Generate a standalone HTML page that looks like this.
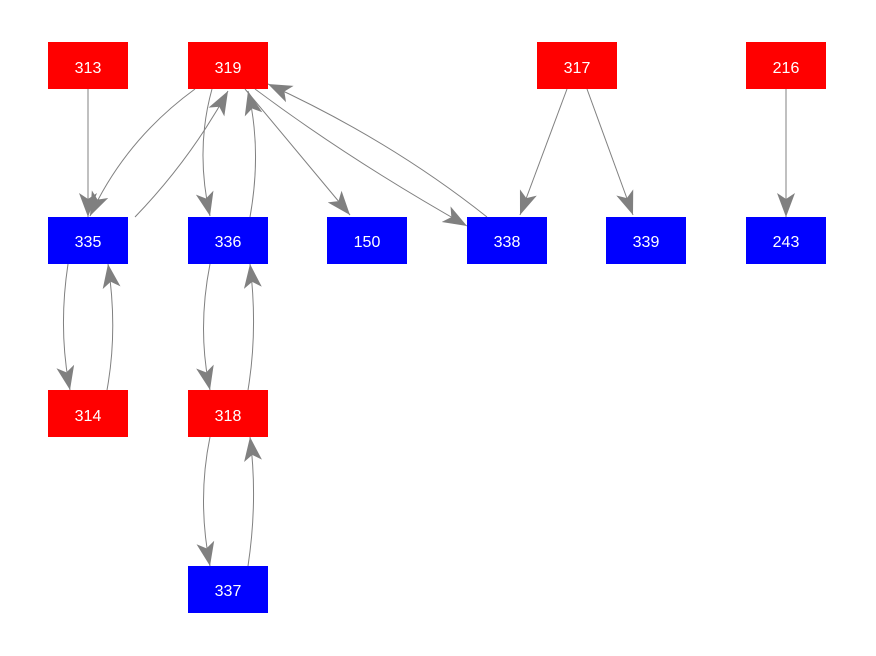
<!DOCTYPE html>
<html><head><style>
body{margin:0;background:#fff;width:876px;height:656px;overflow:hidden}
</style></head><body>
<svg width="876" height="656" xmlns="http://www.w3.org/2000/svg" style="position:absolute;left:0;top:0">
<defs>
<marker id="a" markerWidth="26" markerHeight="20" refX="24" refY="10" orient="auto" markerUnits="userSpaceOnUse">
<path d="M0,1 L24,10 L0,19 L6,10 Z" fill="#808080"/>
</marker>
</defs>
<g stroke="#808080" stroke-width="1" fill="none" marker-end="url(#a)">
<path d="M88,89 L88,217"/>
<path d="M195,89 Q125,140 90,216"/>
<path d="M135,217 Q190,160 228,91"/>
<path d="M212,89 Q195,150 210,216"/>
<path d="M250,217 Q262,150 248,91"/>
<path d="M245,89 L350,215"/>
<path d="M255,89 Q350,160 467,226"/>
<path d="M487,217 Q390,140 268,84"/>
<path d="M567,89 L520,215"/>
<path d="M587,89 L633,215"/>
<path d="M786,89 L786,217"/>
<path d="M68,264 Q58,330 70,390"/>
<path d="M107,390 Q118,330 108,264"/>
<path d="M210,264 Q197,330 210,390"/>
<path d="M248,390 Q258,330 250,264"/>
<path d="M210,437 Q197,500 210,566"/>
<path d="M248,566 Q258,500 250,437"/>
</g>
<g font-family="Liberation Sans, Arial, sans-serif" font-size="16" fill="#fff" text-anchor="middle">
<rect x="48" y="42" width="80" height="47" fill="#f00"/><text x="88" y="73">313</text>
<rect x="188" y="42" width="80" height="47" fill="#f00"/><text x="228" y="73">319</text>
<rect x="537" y="42" width="80" height="47" fill="#f00"/><text x="577" y="73">317</text>
<rect x="746" y="42" width="80" height="47" fill="#f00"/><text x="786" y="73">216</text>
<rect x="48" y="217" width="80" height="47" fill="#00f"/><text x="88" y="247">335</text>
<rect x="188" y="217" width="80" height="47" fill="#00f"/><text x="228" y="247">336</text>
<rect x="327" y="217" width="80" height="47" fill="#00f"/><text x="367" y="247">150</text>
<rect x="467" y="217" width="80" height="47" fill="#00f"/><text x="507" y="247">338</text>
<rect x="606" y="217" width="80" height="47" fill="#00f"/><text x="646" y="247">339</text>
<rect x="746" y="217" width="80" height="47" fill="#00f"/><text x="786" y="247">243</text>
<rect x="48" y="390" width="80" height="47" fill="#f00"/><text x="88" y="421">314</text>
<rect x="188" y="390" width="80" height="47" fill="#f00"/><text x="228" y="421">318</text>
<rect x="188" y="566" width="80" height="47" fill="#00f"/><text x="228" y="596">337</text>
</g>
</svg>
</body></html>
